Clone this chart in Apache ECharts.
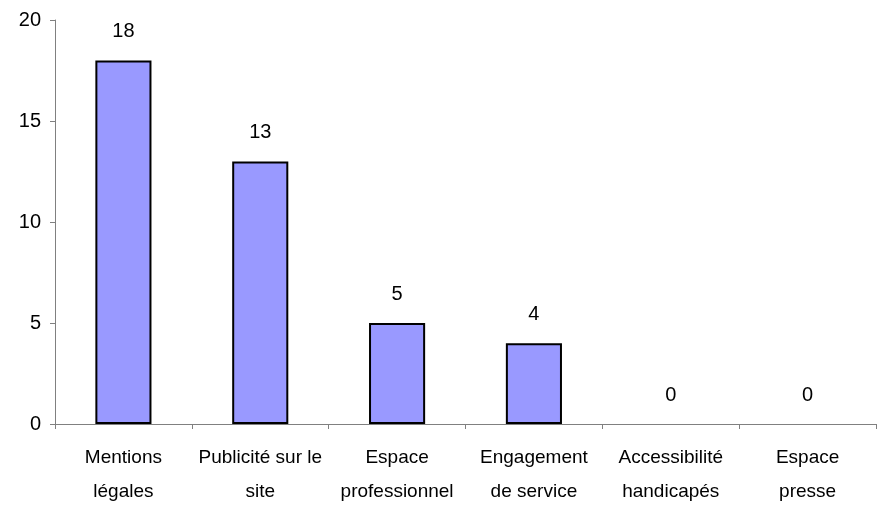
<!DOCTYPE html>
<html>
<head>
<meta charset="utf-8">
<script src="https://cdn.jsdelivr.net/npm/echarts@6/dist/echarts.min.js"></script>
<style>html,body{margin:0;padding:0;background:#fff}#c{width:880px;height:509px}</style>
</head>
<body>
<div id="c"></div>
<script>
const categories = ["Mentions\nlégales", "Publicité sur le\nsite", "Espace\nprofessionnel", "Engagement\nde service", "Accessibilité\nhandicapés", "Espace\npresse"];
const values = [18, 13, 5, 4, 0, 0];
const yTicks = [0, 5, 10, 15, 20];

const font = "'Liberation Sans', Arial, sans-serif";
const chart = echarts.init(document.getElementById('c'));
chart.setOption({
  animation: false,
  backgroundColor: '#ffffff',
  grid: { left: 55, right: 4, top: 20, bottom: 83, containLabel: false },
  xAxis: {
    type: 'category',
    data: categories,
    axisLine: { lineStyle: { color: '#808080', width: 1 } },
    axisTick: { show: true, alignWithLabel: false, length: 5, lineStyle: { color: '#808080' } },
    axisLabel: { color: '#000', fontFamily: font, fontSize: 19, lineHeight: 34, margin: 17, interval: 0 }
  },
  yAxis: {
    type: 'value',
    min: yTicks[0], max: yTicks[yTicks.length - 1], interval: 5,
    splitLine: { show: false },
    axisLine: { show: true, lineStyle: { color: '#808080', width: 1 } },
    axisTick: { show: true, length: 5, lineStyle: { color: '#808080' } },
    axisLabel: { color: '#000', fontFamily: font, fontSize: 20, margin: 14 }
  },
  series: [{
    type: 'bar',
    data: values.map(v => ({ value: v, itemStyle: v === 0 ? { borderWidth: 0 } : undefined })),
    barWidth: '41%',
    itemStyle: { color: '#9999FF', borderColor: '#000', borderWidth: 2 },
    label: { show: true, position: 'top', distance: 19, color: '#000', fontFamily: font, fontSize: 20 }
  }]
});
</script>
</body>
</html>
